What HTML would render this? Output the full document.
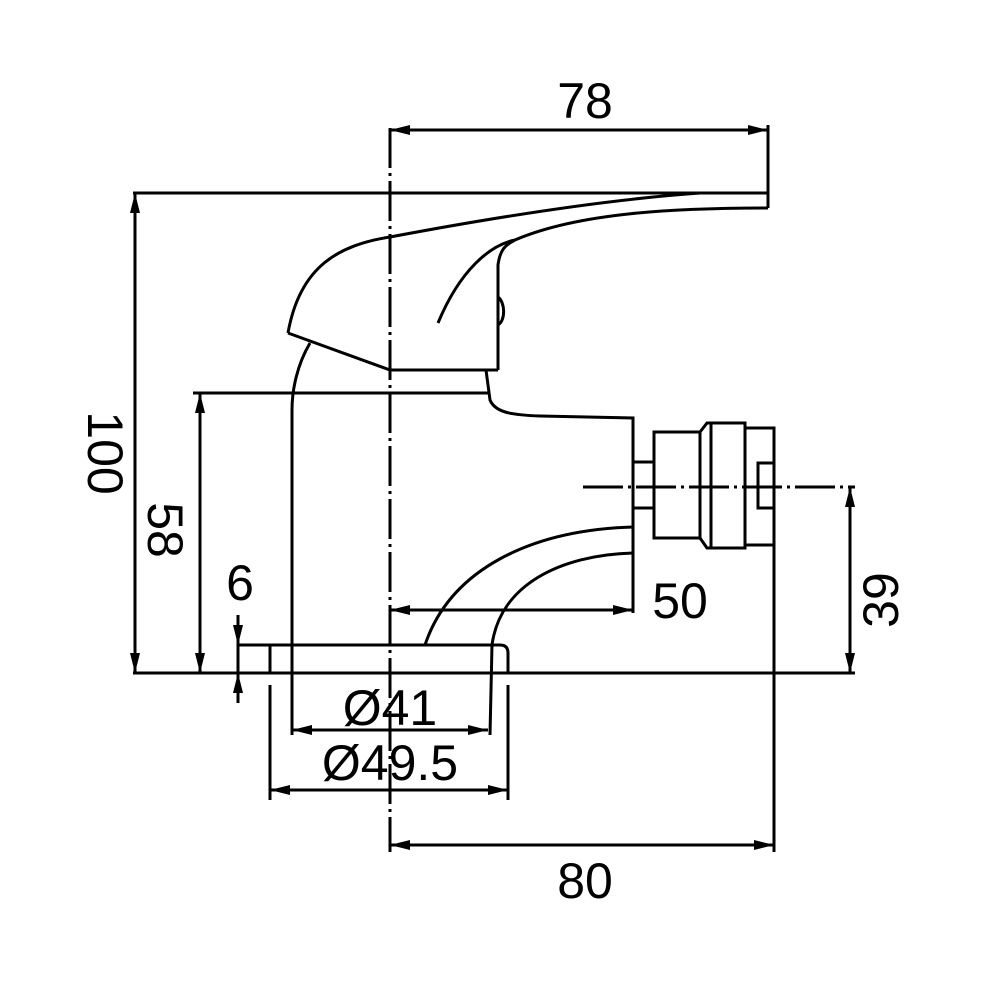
<!DOCTYPE html>
<html><head><meta charset="utf-8"><style>
html,body{margin:0;padding:0;background:#fff;}
svg{display:block}
text{font-family:"Liberation Sans",sans-serif;font-size:50px;fill:#000;}
</style></head><body>
<svg width="1000" height="1000" viewBox="0 0 1000 1000" xmlns="http://www.w3.org/2000/svg">
<defs>
<marker id="a" viewBox="0 0 20 10" refX="20" refY="5" markerWidth="20" markerHeight="10" markerUnits="userSpaceOnUse" orient="auto-start-reverse"><path d="M0,0L20,5L0,10z" fill="#000"/></marker>
</defs>
<g stroke="#000" stroke-width="3" fill="none">
<line x1="390" y1="128" x2="390" y2="852" stroke-dasharray="40,5,3,5"/>
<line x1="583" y1="487" x2="855" y2="487" stroke-dasharray="40,5,3,5"/>
<line x1="133" y1="193" x2="768" y2="193"/>
<line x1="768" y1="125" x2="768" y2="208"/>
<path d="M288,333 C300,265 340,245 390,237 C480,220 600,200 700,193"/>
<path d="M438,323 C460,270 490,245 515,240 C580,212 680,208 768,208"/>
<path d="M498,370 L498,265 C500,250 505,245 515,240"/>
<path d="M498,297 C505,302 506,320 498,325"/>
<path d="M288,333 L390,370 L498,370"/>
<path d="M310,343 C297,365 292,390 292,410 L292,735"/>
<path d="M486,370 L490,400 C495,412 510,415 540,416 L633,418 L633,613"/>
<line x1="193" y1="393" x2="488" y2="393"/>
<path d="M633,527 C530,530 450,570 425,645"/>
<path d="M633,553 C560,555 500,585 492,645 L490,735"/>
<line x1="133" y1="673" x2="855" y2="673"/>
<path d="M237,645 L500,645 Q508,645 508,653 L508,673"/>
<line x1="270" y1="645" x2="270" y2="673"/>
<line x1="270" y1="685" x2="270" y2="800"/>
<line x1="508" y1="685" x2="508" y2="800"/>
<rect x="633" y="462" width="21" height="46"/>
<rect x="654" y="432" width="46" height="106"/>
<path d="M700,432 L707,423 L745,423 L745,548 L707,548 L700,538"/>
<line x1="711" y1="423" x2="711" y2="548"/>
<rect x="745" y="428" width="29" height="117"/>
<rect x="758" y="463" width="16" height="45"/>
<line x1="774" y1="545" x2="774" y2="852"/>
<line x1="390" y1="130" x2="768" y2="130" marker-start="url(#a)" marker-end="url(#a)"/>
<line x1="135" y1="193" x2="135" y2="673" marker-start="url(#a)" marker-end="url(#a)"/>
<line x1="200" y1="393" x2="200" y2="673" marker-start="url(#a)" marker-end="url(#a)"/>
<line x1="850" y1="487" x2="850" y2="673" marker-start="url(#a)" marker-end="url(#a)"/>
<line x1="390" y1="610" x2="633" y2="610" marker-start="url(#a)" marker-end="url(#a)"/>
<line x1="292" y1="730" x2="488" y2="730" marker-start="url(#a)" marker-end="url(#a)"/>
<line x1="270" y1="790" x2="508" y2="790" marker-start="url(#a)" marker-end="url(#a)"/>
<line x1="390" y1="845" x2="774" y2="845" marker-start="url(#a)" marker-end="url(#a)"/>
<line x1="238" y1="615" x2="238" y2="645" marker-end="url(#a)"/>
<line x1="238" y1="703" x2="238" y2="673" marker-end="url(#a)"/>
<line x1="238" y1="645" x2="238" y2="673"/>
</g>
<text x="585" y="118" text-anchor="middle">78</text>
<text x="585" y="898" text-anchor="middle">80</text>
<text x="680" y="618" text-anchor="middle">50</text>
<text x="390" y="725" text-anchor="middle">Ø41</text>
<text x="390" y="780" text-anchor="middle">Ø49.5</text>
<text x="240" y="600" text-anchor="middle">6</text>
<text transform="translate(88,453) rotate(90)" text-anchor="middle">100</text>
<text transform="translate(148,530) rotate(90)" text-anchor="middle">58</text>
<text transform="translate(898,600) rotate(-90)" text-anchor="middle">39</text>
</svg>
</body></html>
